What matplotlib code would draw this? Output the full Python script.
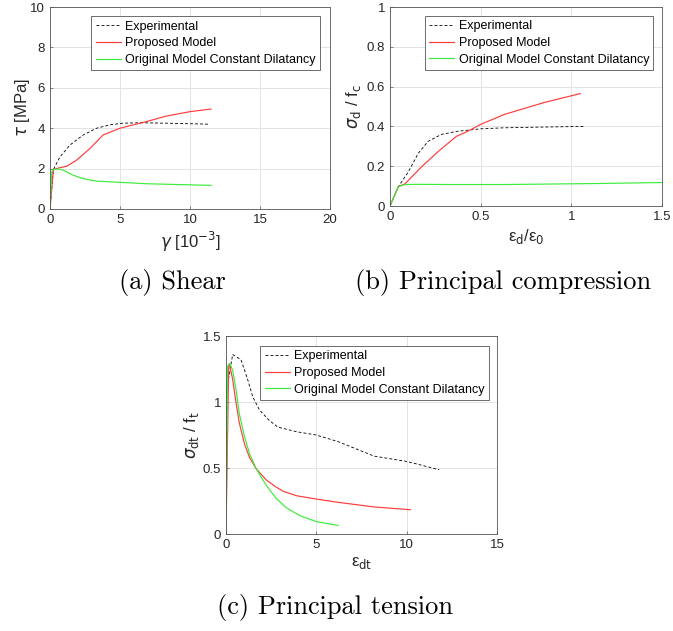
import matplotlib
matplotlib.use('Agg')
import matplotlib.pyplot as plt
from matplotlib.ticker import FormatStrFormatter

plt.rcParams['font.family'] = ['Liberation Sans', 'DejaVu Sans']
plt.rcParams['mathtext.fontset'] = 'dejavusans'

# (a) shear
a_exp_x = [0, 0.24, 0.71, 1.43, 2.38, 3.33, 4.3, 5.2, 6.4, 8.3, 11.4]
a_exp_y = [0, 1.95, 2.58, 3.17, 3.67, 4.0, 4.17, 4.25, 4.27, 4.25, 4.2]
a_prop_x = [0, 0.24, 0.6, 1.2, 1.9, 2.86, 3.8, 5.0, 6.9, 8.3, 10.0, 11.5]
a_prop_y = [0, 1.95, 2.03, 2.12, 2.42, 3.0, 3.67, 4.0, 4.33, 4.6, 4.82, 4.95]
a_orig_x = [0, 0.12, 0.24, 0.6, 0.95, 1.67, 2.38, 3.33, 5.0, 6.9, 9.8, 11.5]
a_orig_y = [0, 1.83, 1.95, 1.98, 1.92, 1.67, 1.5, 1.38, 1.32, 1.25, 1.2, 1.17]

# (b) principal compression
b_exp_x = [0, 0.046, 0.1, 0.156, 0.21, 0.284, 0.375, 0.5, 0.63, 0.8, 1.07]
b_exp_y = [0, 0.0975, 0.17, 0.265, 0.325, 0.36, 0.376, 0.388, 0.393, 0.396, 0.40]
b_prop_x = [0, 0.046, 0.082, 0.174, 0.266, 0.366, 0.43, 0.5, 0.63, 0.85, 1.05]
b_prop_y = [0, 0.0975, 0.111, 0.197, 0.274, 0.35, 0.376, 0.41, 0.46, 0.52, 0.565]
b_orig_x = [0, 0.046, 0.082, 0.156, 0.34, 0.63, 1.14, 1.5]
b_orig_y = [0, 0.0975, 0.108, 0.109, 0.108, 0.108, 0.113, 0.118]

# (c) principal tension
c_exp_x = [0, 0.05, 0.37, 0.83, 1.2, 1.48, 1.85, 2.4, 2.87, 3.9, 5.0, 6.2, 8.2, 10.0, 11.8]
c_exp_y = [0, 1.1, 1.36, 1.32, 1.17, 1.04, 0.94, 0.86, 0.81, 0.775, 0.75, 0.70, 0.59, 0.55, 0.487]
c_prop_x = [0, 0.15, 0.19, 0.37, 0.56, 0.74, 1.02, 1.3, 1.67, 2.22, 2.78, 3.15, 3.9, 5.0, 6.2, 8.2, 10.2]
c_prop_y = [0, 1.28, 1.29, 1.17, 0.99, 0.84, 0.685, 0.58, 0.495, 0.41, 0.355, 0.325, 0.29, 0.265, 0.24, 0.205, 0.184]
c_orig_x = [0, 0.09, 0.22, 0.37, 0.56, 0.74, 1.02, 1.3, 1.67, 2.22, 2.78, 3.33, 4.07, 5.0, 6.2]
c_orig_y = [0, 1.27, 1.29, 1.24, 1.09, 0.91, 0.74, 0.61, 0.495, 0.37, 0.27, 0.2, 0.14, 0.094, 0.065]

labels = ['Experimental', 'Proposed Model', 'Original Model Constant Dilatancy']

fig = plt.figure(figsize=(6.73, 6.31), dpi=100)


def style(ax, xlim, ylim, xt, yt):
    ax.set_xlim(xlim)
    ax.set_ylim(ylim)
    ax.set_xticks(xt)
    ax.set_yticks(yt)
    ax.xaxis.set_major_formatter(FormatStrFormatter('%g'))
    ax.yaxis.set_major_formatter(FormatStrFormatter('%g'))
    ax.grid(True, color='#e3e3e3', linewidth=0.7)
    ax.set_axisbelow(True)
    for s in ax.spines.values():
        s.set_color('#555555')
        s.set_linewidth(0.6)
    ax.tick_params(direction='in', length=2.5, width=0.5, colors='#555555',
                   labelcolor='#262626', labelsize=9.5)


def curves(ax, ex, ey, px, py, ox, oy, loc_anchor):
    ax.plot(ex, ey, '--', color='black', linewidth=0.6, dashes=(3.5, 2.5), label=labels[0])
    ax.plot(px, py, '-', color='#ff3b3b', linewidth=0.85, label=labels[1])
    ax.plot(ox, oy, '-', color='#3cec3c', linewidth=0.85, label=labels[2])
    leg = ax.legend(loc='upper right', bbox_to_anchor=loc_anchor, fontsize=9,
                    fancybox=False, framealpha=1, edgecolor='#555555',
                    handlelength=2.0, handletextpad=0.35, borderpad=0.35,
                    labelspacing=0.38, borderaxespad=0)
    leg.get_frame().set_linewidth(0.6)


# panel a
ax1 = fig.add_axes([0.0743, 0.6688, 0.416, 0.320])
curves(ax1, a_exp_x, a_exp_y, a_prop_x, a_prop_y, a_orig_x, a_orig_y, (0.964, 0.955))
style(ax1, (0, 20), (0, 10), [0, 5, 10, 15, 20], [0, 2, 4, 6, 8, 10])
ax1.set_xlabel(r'$\gamma$ [10$^{-3}$]', fontsize=12, color='#262626', labelpad=3)
ax1.set_ylabel(r'$\tau$ [MPa]', fontsize=12, color='#262626', labelpad=-1)

# panel b
ax2 = fig.add_axes([0.5795, 0.6735, 0.404, 0.3154])
curves(ax2, b_exp_x, b_exp_y, b_prop_x, b_prop_y, b_orig_x, b_orig_y, (0.969, 0.955))
style(ax2, (0, 1.5), (0, 1), [0, 0.5, 1, 1.5], [0, 0.2, 0.4, 0.6, 0.8, 1])
ax2.set_xlabel(r'ε$_{\rm d}$/ε$_{\rm 0}$', fontsize=12, color='#262626', labelpad=3)
ax2.set_ylabel(r'$\sigma_{\rm d}$ / f$_{\rm c}$', fontsize=12, color='#262626', labelpad=3)

# panel c
ax3 = fig.add_axes([0.3358, 0.1537, 0.4027, 0.3138])
curves(ax3, c_exp_x, c_exp_y, c_prop_x, c_prop_y, c_orig_x, c_orig_y, (0.97, 0.95))
style(ax3, (0, 15), (0, 1.5), [0, 5, 10, 15], [0, 0.5, 1, 1.5])
ax3.set_xlabel(r'ε$_{\rm dt}$', fontsize=12, color='#262626', labelpad=3)
ax3.set_ylabel(r'$\sigma_{\rm dt}$ / f$_{\rm t}$', fontsize=12, color='#262626', labelpad=1)

# captions
fig.text(0.256, 0.553, '(a) Shear', family='cmr10', fontsize=19, ha='center', va='center')
fig.text(0.747, 0.553, '(b) Principal compression', family='cmr10', fontsize=19, ha='center', va='center')
fig.text(0.498, 0.038, '(c) Principal tension', family='cmr10', fontsize=19, ha='center', va='center')

fig.savefig('out.png', dpi=100)
